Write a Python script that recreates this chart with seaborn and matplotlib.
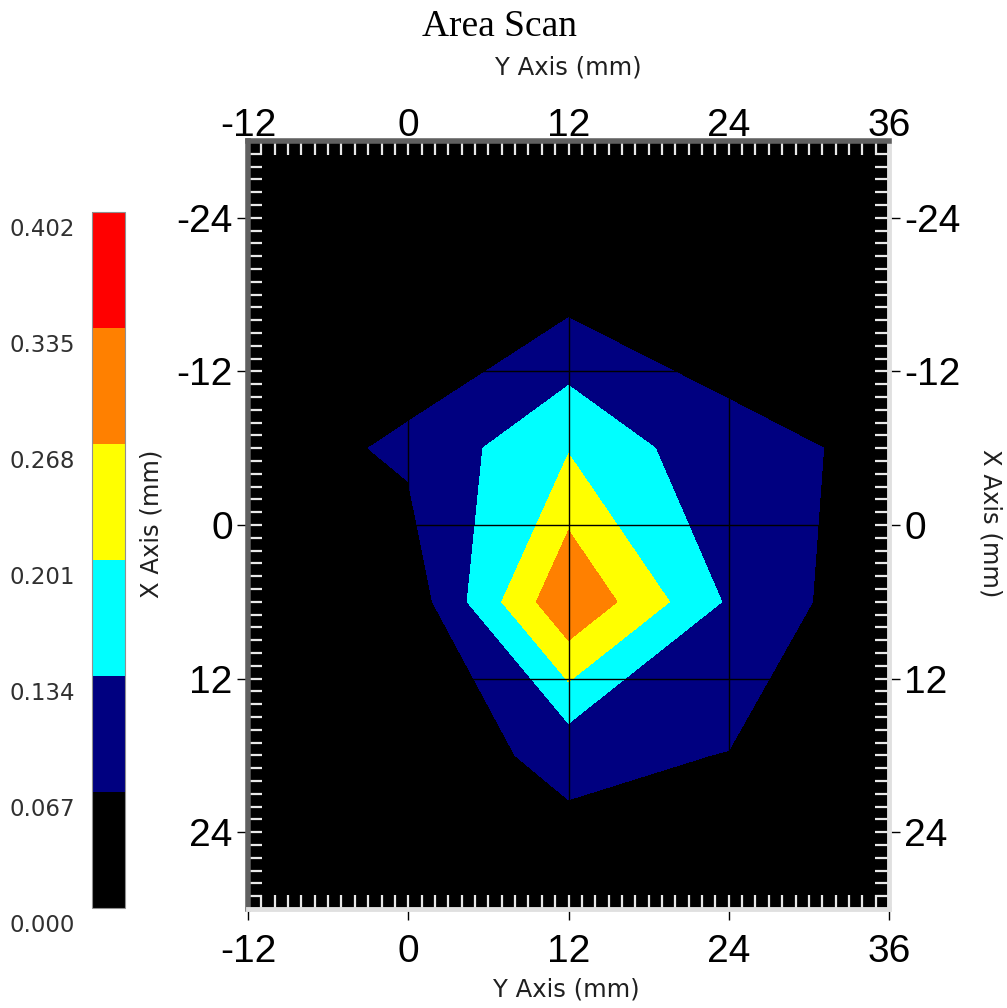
import numpy as np
import matplotlib
matplotlib.use('Agg')
import matplotlib.pyplot as plt
import matplotlib.transforms as mtransforms
from matplotlib.ticker import MultipleLocator, FixedLocator
import seaborn as sns

# scan grid positions (mm)
y_axis_pos = [-12, 0, 12, 24, 36]          # horizontal axis ("Y Axis")
x_axis_pos = [-30, -18, -6, 6, 18, 30]     # vertical axis ("X Axis")

# measured values, one row per X position
row_m30 = [0.010, 0.005, 0.020, 0.015, 0.010]
row_m18 = [0.015, 0.005, 0.044, 0.036, 0.030]
row_m6 = [0.028, 0.080, 0.196, 0.0815, 0.057]
row_p6 = [0.020, 0.020, 0.330, 0.125, 0.014]
row_p18 = [0.015, 0.037, 0.082, 0.065, 0.020]
row_p30 = [0.010, 0.020, 0.030, 0.020, 0.010]

levels = [0.000, 0.067, 0.134, 0.201, 0.268, 0.335, 0.402]
level_colors = ['#000000', '#000080', '#00ffff', '#ffff00', '#ff8000', '#ff0000']
h_ticks = [-12, 0, 12, 24, 36]
v_ticks = [-24, -12, 0, 12, 24]

sns.set_style("white")
plt.rcParams['axes.unicode_minus'] = False
plt.rcParams['text.color'] = 'black'
plt.rcParams['xtick.labelcolor'] = 'black'
plt.rcParams['ytick.labelcolor'] = 'black'

Z = np.array([row_m30, row_m18, row_m6, row_p6, row_p18, row_p30])

fig = plt.figure(figsize=(10.07, 10.08), dpi=100)
ax = fig.add_axes([248/1007, 99/1008, 641/1007, 768/1008])
ax.set_facecolor('black')

cs = ax.contourf(y_axis_pos, x_axis_pos, Z, levels=levels, colors=level_colors)
ax.set_xlim(-12, 36)
ax.set_ylim(30, -30)

# grid on top of the filled contours
ax.set_axisbelow(False)
ax.xaxis.set_major_locator(FixedLocator(h_ticks))
ax.yaxis.set_major_locator(FixedLocator(v_ticks))
ax.xaxis.set_minor_locator(MultipleLocator(1))
ax.yaxis.set_minor_locator(MultipleLocator(1))
ax.xaxis.remove_overlapping_locs = False
ax.yaxis.remove_overlapping_locs = False
ax.grid(True, which='major', color='black', lw=1.0)

tick_font = dict(family='Liberation Sans', size=28, color='black')
ax.tick_params(which='major', direction='out', length=8, width=1, color='black',
               left=True, right=True, labelleft=True, labelright=True,
               bottom=True, top=False, labeltop=False, labelcolor='black')
ax.tick_params(axis='x', which='major', pad=10)
ax.tick_params(axis='y', which='major', pad=3)
ax.tick_params(which='minor', direction='in', length=10, width=1.6, color='#e8e8e8',
               left=True, right=True, top=True, bottom=True)
ax.set_xticklabels([str(t) for t in h_ticks], fontdict=tick_font)
ax.set_yticklabels([str(t) for t in v_ticks], fontdict=tick_font)
for t in ax.yaxis.get_major_ticks():
    t.label2.set_fontfamily('Liberation Sans')
    t.label2.set_fontsize(28)
    t.label2.set_color('black')

# top labels through a secondary axis
top = ax.secondary_xaxis('top')
top.xaxis.set_major_locator(FixedLocator(h_ticks))
top.tick_params(length=0, pad=-2, labelcolor='black')
top.set_xticklabels([str(t) for t in h_ticks], fontdict=tick_font)
top.spines['top'].set_visible(False)

# bevelled frame drawn above the tick marks
for side in ['top', 'left']:
    ax.spines[side].set_color('#606060')
    ax.spines[side].set_linewidth(4.0)
    ax.spines[side].set_zorder(4)
for side in ['bottom', 'right']:
    ax.spines[side].set_color('#e0e0e0')
    ax.spines[side].set_linewidth(3.5)
    ax.spines[side].set_zorder(4)

# colour bar on the left
cax = fig.add_axes([92/1007, 100/1008, 33/1007, 696/1008])
cbar = fig.colorbar(cs, cax=cax)
cbar.set_ticks([])
cbar.outline.set_edgecolor('#909090')
cbar.outline.set_linewidth(0.8)
trans = mtransforms.offset_copy(
    mtransforms.blended_transform_factory(cax.transAxes, cax.transData),
    fig=fig, x=0, y=-6, units='dots')
for v in levels:
    cax.text(-0.52, v, f'{v:.3f}', transform=trans, ha='right', va='top',
             fontsize=16.5, family='DejaVu Sans', color='#303030')

fig.text(500/1007, 1 - 27/1008, 'Area Scan', ha='center', va='center',
         fontsize=27, family='Liberation Serif', color='black')
fig.text(568/1007, 1 - 68/1008, 'Y Axis (mm)', ha='center', va='center',
         fontsize=17.5, family='DejaVu Sans', color='#202020')
fig.text(566/1007, 1 - 990/1008, 'Y Axis (mm)', ha='center', va='center',
         fontsize=17.5, family='DejaVu Sans', color='#202020')
fig.text(152/1007, 1 - 524/1008, 'X Axis (mm)', ha='center', va='center',
         rotation=90, fontsize=17.5, family='DejaVu Sans', color='#202020')
fig.text(991/1007, 1 - 523/1008, 'X Axis (mm)', ha='center', va='center',
         rotation=270, fontsize=17.5, family='DejaVu Sans', color='#202020')

fig.savefig('out.png', dpi=100)
